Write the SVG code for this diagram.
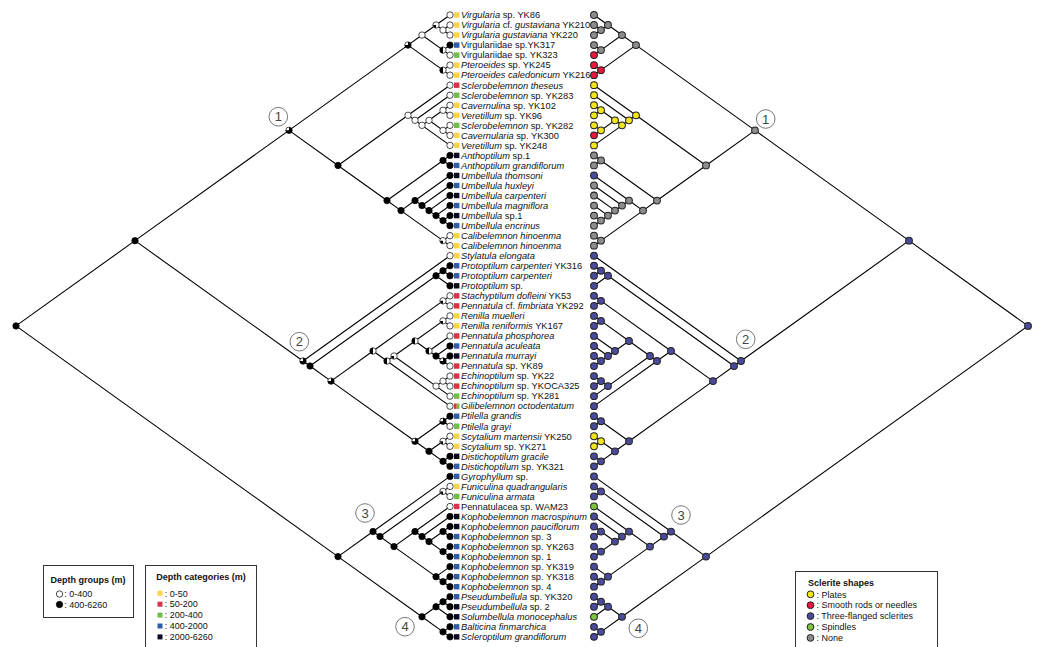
<svg xmlns="http://www.w3.org/2000/svg" xmlns:xlink="http://www.w3.org/1999/xlink" width="1044" height="647" viewBox="0 0 1044 647">
<style>
.e{fill:none;stroke:#000;stroke-width:1.1;stroke-linejoin:round}
text{font-family:"Liberation Sans",Arial,sans-serif;fill:#111}
.lab{font-size:9.3px}
.i{font-style:italic}
.lg{font-size:9px}
.lt{font-size:9px;font-weight:bold}
.box{fill:#fff;stroke:#333;stroke-width:1}
.cn{fill:#fff;stroke:#555;stroke-width:0.8}
.cnt{font-size:13px;fill:#444;text-anchor:middle}
</style>
<defs>
<g id="lw"><circle r="3.2" fill="#fff" stroke="#000" stroke-width="0.7"/></g>
<g id="lb"><circle r="3.2" fill="#000" stroke="#000" stroke-width="0.7"/></g>
<g id="lbw"><circle r="3.2" fill="#000" stroke="#000" stroke-width="0.7"/><path d="M0,0V-2.8A2.8,2.8 0 0 0 -2.8,0Z" fill="#fff"/></g>
<g id="lwb"><circle r="3.2" fill="#fff" stroke="#000" stroke-width="0.7"/><path d="M0,0V2.8A2.8,2.8 0 0 1 -2.8,0Z" fill="#000"/></g>
<g id="lh"><circle r="3.2" fill="#fff" stroke="#000" stroke-width="0.7"/><path d="M0,-3.2A3.2,3.2 0 0 0 0,3.2Z" fill="#000"/></g>
<g id="rg"><circle r="3.4" fill="#8C8C8C" stroke="#222" stroke-width="1"/></g>
<g id="ry"><circle r="3.4" fill="#F2E51E" stroke="#222" stroke-width="1"/></g>
<g id="rr"><circle r="3.4" fill="#E8173E" stroke="#222" stroke-width="1"/></g>
<g id="rp"><circle r="3.4" fill="#4B4A9A" stroke="#222" stroke-width="1"/></g>
<g id="rn"><circle r="3.4" fill="#7DC242" stroke="#222" stroke-width="1"/></g>
<g id="sY"><rect x="0" y="-2.7" width="5.4" height="5.4" fill="#FFD24A"/></g>
<g id="sR"><rect x="0" y="-2.7" width="5.4" height="5.4" fill="#D8334A"/></g>
<g id="sG"><rect x="0" y="-2.7" width="5.4" height="5.4" fill="#6DBE4B"/></g>
<g id="sB"><rect x="0" y="-2.7" width="5.4" height="5.4" fill="#2F5DAA"/></g>
<g id="sK"><rect x="0" y="-2.7" width="5.4" height="5.4" fill="#0B0B24"/></g>
<g id="sRG"><rect x="0" y="-2.7" width="2.7" height="5.4" fill="#D8334A"/><rect x="2.7" y="-2.7" width="2.7" height="5.4" fill="#6DBE4B"/></g>
<path id="tree" class="e" d="M450,25L443,30L450,35 M450,15L436,25L443,30 M450,45L443,50L450,55 M436,25L422,35L443,50 M450,65L443,70L450,75 M422,35L408,45L443,70 M450,105L443,110L450,115 M450,125L443,130L450,135 M443,110L429,120L443,130 M429,120L422,125L450,145 M450,95L415,120L422,125 M450,85L408,115L415,120 M450,155L443,160L450,165 M450,215L443,220L450,225 M450,205L436,215L443,220 M450,195L429,210L436,215 M450,185L422,205L429,210 M450,175L415,200L422,205 M450,235L443,240L450,245 M415,200L401,210L443,240 M443,160L387,200L401,210 M408,115L338,165L387,200 M408,45L289,130L338,165 M450,265L443,270L450,275 M443,270L436,275L450,285 M450,295L443,300L450,305 M450,315L443,320L450,325 M450,355L443,360L450,365 M450,345L436,355L443,360 M450,335L429,350L436,355 M443,320L415,340L429,350 M450,375L443,380L450,385 M443,380L436,385L450,395 M415,340L394,355L436,385 M394,355L387,360L450,405 M443,300L373,350L387,360 M450,415L443,420L450,425 M450,435L443,440L450,445 M450,455L443,460L450,465 M443,440L429,450L443,460 M443,420L415,440L429,450 M373,350L331,380L415,440 M436,275L310,365L331,380 M450,255L303,360L310,365 M289,130L135,240L303,360 M450,485L443,490L450,495 M450,525L443,530L450,535 M450,545L443,550L450,555 M443,530L429,540L443,550 M450,515L422,535L429,540 M450,505L415,530L422,535 M450,575L443,580L450,585 M450,565L436,575L443,580 M415,530L394,545L436,575 M443,490L380,535L394,545 M450,475L373,530L380,535 M450,595L443,600L450,605 M443,600L436,605L450,615 M450,625L443,630L450,635 M436,605L422,615L443,630 M373,530L338,555L422,615 M135,240L16,325L338,555"/>
</defs>
<rect width="1044" height="647" fill="#fff"/>
<g transform="matrix(1 0 0 1.003 0 -0.05)">
<g id="connectors">
<use href="#tree"/>
<use href="#tree" transform="matrix(-1 0 0 1 1044 0)"/>
</g>
<g id="internal-left">
<use href="#lw" x="443" y="30"/><use href="#lwb" x="436" y="25"/><use href="#lh" x="443" y="50"/><use href="#lw" x="422" y="35"/><use href="#lh" x="443" y="70"/><use href="#lbw" x="408" y="45"/>
<use href="#lw" x="443" y="110"/><use href="#lw" x="443" y="130"/><use href="#lw" x="429" y="120"/><use href="#lw" x="422" y="125"/><use href="#lw" x="415" y="120"/><use href="#lw" x="408" y="115"/>
<use href="#lb" x="443" y="160"/><use href="#lb" x="443" y="220"/><use href="#lb" x="436" y="215"/><use href="#lb" x="429" y="210"/><use href="#lb" x="422" y="205"/><use href="#lb" x="415" y="200"/><use href="#lwb" x="443" y="240"/><use href="#lb" x="401" y="210"/><use href="#lb" x="387" y="200"/><use href="#lb" x="338" y="165"/><use href="#lbw" x="289" y="130"/>
<use href="#lb" x="443" y="270"/><use href="#lb" x="436" y="275"/><use href="#lwb" x="443" y="300"/><use href="#lwb" x="443" y="320"/><use href="#lbw" x="443" y="360"/><use href="#lb" x="436" y="355"/><use href="#lh" x="429" y="350"/><use href="#lh" x="415" y="340"/><use href="#lw" x="443" y="380"/><use href="#lw" x="436" y="385"/><use href="#lwb" x="394" y="355"/><use href="#lh" x="387" y="360"/><use href="#lh" x="373" y="350"/>
<use href="#lbw" x="443" y="420"/><use href="#lwb" x="443" y="440"/><use href="#lb" x="443" y="460"/><use href="#lb" x="429" y="450"/><use href="#lbw" x="415" y="440"/><use href="#lbw" x="331" y="380"/><use href="#lb" x="310" y="365"/><use href="#lbw" x="303" y="360"/><use href="#lb" x="135" y="240"/>
<use href="#lwb" x="443" y="490"/><use href="#lb" x="443" y="530"/><use href="#lb" x="443" y="550"/><use href="#lb" x="429" y="540"/><use href="#lb" x="422" y="535"/><use href="#lb" x="415" y="530"/><use href="#lb" x="443" y="580"/><use href="#lb" x="436" y="575"/><use href="#lb" x="394" y="545"/><use href="#lb" x="380" y="535"/><use href="#lb" x="373" y="530"/>
<use href="#lb" x="443" y="600"/><use href="#lb" x="436" y="605"/><use href="#lb" x="443" y="630"/><use href="#lb" x="422" y="615"/><use href="#lb" x="338" y="555"/><use href="#lb" x="16" y="325"/>
</g>
<g id="internal-right" transform="matrix(-1 0 0 1 1044 0)">
<use href="#rg" x="443" y="30"/><use href="#rg" x="436" y="25"/><use href="#rg" x="443" y="50"/><use href="#rg" x="422" y="35"/><use href="#rr" x="443" y="70"/><use href="#rg" x="408" y="45"/>
<use href="#ry" x="443" y="110"/><use href="#ry" x="443" y="130"/><use href="#ry" x="429" y="120"/><use href="#ry" x="422" y="125"/><use href="#ry" x="415" y="120"/><use href="#ry" x="408" y="115"/>
<use href="#rg" x="443" y="160"/><use href="#rg" x="443" y="220"/><use href="#rg" x="436" y="215"/><use href="#rg" x="429" y="210"/><use href="#rg" x="422" y="205"/><use href="#rg" x="415" y="200"/><use href="#rg" x="443" y="240"/><use href="#rg" x="401" y="210"/><use href="#rg" x="387" y="200"/><use href="#rg" x="338" y="165"/><use href="#rg" x="289" y="130"/>
<use href="#rp" x="443" y="270"/><use href="#rp" x="436" y="275"/><use href="#rp" x="443" y="300"/><use href="#rp" x="443" y="320"/><use href="#rp" x="443" y="360"/><use href="#rp" x="436" y="355"/><use href="#rp" x="429" y="350"/><use href="#rp" x="415" y="340"/><use href="#rp" x="443" y="380"/><use href="#rp" x="436" y="385"/><use href="#rp" x="394" y="355"/><use href="#rp" x="387" y="360"/><use href="#rp" x="373" y="350"/>
<use href="#rp" x="443" y="420"/><use href="#ry" x="443" y="440"/><use href="#rp" x="443" y="460"/><use href="#rp" x="429" y="450"/><use href="#rp" x="415" y="440"/><use href="#rp" x="331" y="380"/><use href="#rp" x="310" y="365"/><use href="#rp" x="303" y="360"/><use href="#rp" x="135" y="240"/>
<use href="#rp" x="443" y="490"/><use href="#rp" x="443" y="530"/><use href="#rp" x="443" y="550"/><use href="#rp" x="429" y="540"/><use href="#rp" x="422" y="535"/><use href="#rp" x="415" y="530"/><use href="#rp" x="443" y="580"/><use href="#rp" x="436" y="575"/><use href="#rp" x="394" y="545"/><use href="#rp" x="380" y="535"/><use href="#rp" x="373" y="530"/>
<use href="#rp" x="443" y="600"/><use href="#rp" x="436" y="605"/><use href="#rp" x="443" y="630"/><use href="#rp" x="422" y="615"/><use href="#rp" x="338" y="555"/><use href="#rp" x="16" y="325"/>
</g>
<g id="taxa" class="lab">
<g id="t01"><use href="#lw" x="450" y="15"/><use href="#sY" x="454" y="15"/><text x="461" y="18.3"><tspan class="i">Virgularia</tspan> sp. YK86</text><use href="#rg" x="594" y="15"/></g>
<g id="t02"><use href="#lw" x="450" y="25"/><use href="#sY" x="454" y="25"/><text x="461" y="28.3"><tspan class="i">Virgularia</tspan> cf. <tspan class="i">gustaviana</tspan> YK210</text><use href="#rg" x="594" y="25"/></g>
<g id="t03"><use href="#lw" x="450" y="35"/><use href="#sY" x="454" y="35"/><text x="461" y="38.3"><tspan class="i">Virgularia gustaviana</tspan> YK220</text><use href="#rg" x="594" y="35"/></g>
<g id="t04"><use href="#lb" x="450" y="45"/><use href="#sB" x="454" y="45"/><text x="461" y="48.3">Virgulariidae sp.YK317</text><use href="#rg" x="594" y="45"/></g>
<g id="t05"><use href="#lw" x="450" y="55"/><use href="#sG" x="454" y="55"/><text x="461" y="58.3">Virgulariidae sp. YK323</text><use href="#rr" x="594" y="55"/></g>
<g id="t06"><use href="#lw" x="450" y="65"/><use href="#sY" x="454" y="65"/><text x="461" y="68.3"><tspan class="i">Pteroeides</tspan> sp. YK245</text><use href="#rr" x="594" y="65"/></g>
<g id="t07"><use href="#lw" x="450" y="75"/><use href="#sY" x="454" y="75"/><text x="461" y="78.3"><tspan class="i">Pteroeides caledonicum</tspan> YK216</text><use href="#rr" x="594" y="75"/></g>
<g id="t08"><use href="#lw" x="450" y="85"/><use href="#sR" x="454" y="85"/><text x="461" y="88.3"><tspan class="i">Sclerobelemnon theseus</tspan></text><use href="#ry" x="594" y="85"/></g>
<g id="t09"><use href="#lw" x="450" y="95"/><use href="#sG" x="454" y="95"/><text x="461" y="98.3"><tspan class="i">Sclerobelemnon</tspan> sp. YK283</text><use href="#ry" x="594" y="95"/></g>
<g id="t10"><use href="#lw" x="450" y="105"/><use href="#sY" x="454" y="105"/><text x="461" y="108.3"><tspan class="i">Cavernulina</tspan> sp. YK102</text><use href="#ry" x="594" y="105"/></g>
<g id="t11"><use href="#lw" x="450" y="115"/><use href="#sY" x="454" y="115"/><text x="461" y="118.3"><tspan class="i">Veretillum</tspan> sp. YK96</text><use href="#ry" x="594" y="115"/></g>
<g id="t12"><use href="#lw" x="450" y="125"/><use href="#sG" x="454" y="125"/><text x="461" y="128.3"><tspan class="i">Sclerobelemnon</tspan> sp. YK282</text><use href="#ry" x="594" y="125"/></g>
<g id="t13"><use href="#lw" x="450" y="135"/><use href="#sY" x="454" y="135"/><text x="461" y="138.3"><tspan class="i">Cavernularia</tspan> sp. YK300</text><use href="#rr" x="594" y="135"/></g>
<g id="t14"><use href="#lw" x="450" y="145"/><use href="#sY" x="454" y="145"/><text x="461" y="148.3"><tspan class="i">Veretillum</tspan> sp. YK248</text><use href="#ry" x="594" y="145"/></g>
<g id="t15"><use href="#lb" x="450" y="155"/><use href="#sK" x="454" y="155"/><text x="461" y="158.3"><tspan class="i">Anthoptilum</tspan> sp.1</text><use href="#rg" x="594" y="155"/></g>
<g id="t16"><use href="#lb" x="450" y="165"/><use href="#sB" x="454" y="165"/><text x="461" y="168.3"><tspan class="i">Anthoptilum grandiflorum</tspan></text><use href="#rg" x="594" y="165"/></g>
<g id="t17"><use href="#lb" x="450" y="175"/><use href="#sK" x="454" y="175"/><text x="461" y="178.3"><tspan class="i">Umbellula thomsoni</tspan></text><use href="#rp" x="594" y="175"/></g>
<g id="t18"><use href="#lb" x="450" y="185"/><use href="#sB" x="454" y="185"/><text x="461" y="188.3"><tspan class="i">Umbellula huxleyi</tspan></text><use href="#rg" x="594" y="185"/></g>
<g id="t19"><use href="#lb" x="450" y="195"/><use href="#sK" x="454" y="195"/><text x="461" y="198.3"><tspan class="i">Umbellula carpenteri</tspan></text><use href="#rg" x="594" y="195"/></g>
<g id="t20"><use href="#lb" x="450" y="205"/><use href="#sB" x="454" y="205"/><text x="461" y="208.3"><tspan class="i">Umbellula magniflora</tspan></text><use href="#rg" x="594" y="205"/></g>
<g id="t21"><use href="#lb" x="450" y="215"/><use href="#sK" x="454" y="215"/><text x="461" y="218.3"><tspan class="i">Umbellula</tspan> sp.1</text><use href="#rg" x="594" y="215"/></g>
<g id="t22"><use href="#lb" x="450" y="225"/><use href="#sB" x="454" y="225"/><text x="461" y="228.3"><tspan class="i">Umbellula encrinus</tspan></text><use href="#rg" x="594" y="225"/></g>
<g id="t23"><use href="#lw" x="450" y="235"/><use href="#sY" x="454" y="235"/><text x="461" y="238.3"><tspan class="i">Calibelemnon hinoenma</tspan></text><use href="#rg" x="594" y="235"/></g>
<g id="t24"><use href="#lw" x="450" y="245"/><use href="#sY" x="454" y="245"/><text x="461" y="248.3"><tspan class="i">Calibelemnon hinoenma</tspan></text><use href="#rg" x="594" y="245"/></g>
<g id="t25"><use href="#lw" x="450" y="255"/><use href="#sY" x="454" y="255"/><text x="461" y="258.3"><tspan class="i">Stylatula elongata</tspan></text><use href="#rp" x="594" y="255"/></g>
<g id="t26"><use href="#lb" x="450" y="265"/><use href="#sB" x="454" y="265"/><text x="461" y="268.3"><tspan class="i">Protoptilum carpenteri</tspan> YK316</text><use href="#rp" x="594" y="265"/></g>
<g id="t27"><use href="#lb" x="450" y="275"/><use href="#sB" x="454" y="275"/><text x="461" y="278.3"><tspan class="i">Protoptilum carpenteri</tspan></text><use href="#rp" x="594" y="275"/></g>
<g id="t28"><use href="#lb" x="450" y="285"/><use href="#sK" x="454" y="285"/><text x="461" y="288.3"><tspan class="i">Protoptilum</tspan> sp.</text><use href="#rp" x="594" y="285"/></g>
<g id="t29"><use href="#lw" x="450" y="295"/><use href="#sR" x="454" y="295"/><text x="461" y="298.3"><tspan class="i">Stachyptilum dofleini</tspan> YK53</text><use href="#rp" x="594" y="295"/></g>
<g id="t30"><use href="#lw" x="450" y="305"/><use href="#sR" x="454" y="305"/><text x="461" y="308.3"><tspan class="i">Pennatula</tspan> cf. <tspan class="i">fimbriata</tspan> YK292</text><use href="#rp" x="594" y="305"/></g>
<g id="t31"><use href="#lw" x="450" y="315"/><use href="#sY" x="454" y="315"/><text x="461" y="318.3"><tspan class="i">Renilla muelleri</tspan></text><use href="#rp" x="594" y="315"/></g>
<g id="t32"><use href="#lw" x="450" y="325"/><use href="#sY" x="454" y="325"/><text x="461" y="328.3"><tspan class="i">Renilla reniformis</tspan> YK167</text><use href="#rp" x="594" y="325"/></g>
<g id="t33"><use href="#lw" x="450" y="335"/><use href="#sR" x="454" y="335"/><text x="461" y="338.3"><tspan class="i">Pennatula phosphorea</tspan></text><use href="#rp" x="594" y="335"/></g>
<g id="t34"><use href="#lb" x="450" y="345"/><use href="#sB" x="454" y="345"/><text x="461" y="348.3"><tspan class="i">Pennatula aculeata</tspan></text><use href="#rp" x="594" y="345"/></g>
<g id="t35"><use href="#lb" x="450" y="355"/><use href="#sK" x="454" y="355"/><text x="461" y="358.3"><tspan class="i">Pennatula murrayi</tspan></text><use href="#rp" x="594" y="355"/></g>
<g id="t36"><use href="#lw" x="450" y="365"/><use href="#sR" x="454" y="365"/><text x="461" y="368.3"><tspan class="i">Pennatula</tspan> sp. YK89</text><use href="#rp" x="594" y="365"/></g>
<g id="t37"><use href="#lw" x="450" y="375"/><use href="#sR" x="454" y="375"/><text x="461" y="378.3"><tspan class="i">Echinoptilum</tspan> sp. YK22</text><use href="#rp" x="594" y="375"/></g>
<g id="t38"><use href="#lw" x="450" y="385"/><use href="#sR" x="454" y="385"/><text x="461" y="388.3"><tspan class="i">Echinoptilum</tspan> sp. YKOCA325</text><use href="#rp" x="594" y="385"/></g>
<g id="t39"><use href="#lw" x="450" y="395"/><use href="#sG" x="454" y="395"/><text x="461" y="398.3"><tspan class="i">Echinoptilum</tspan> sp. YK281</text><use href="#rp" x="594" y="395"/></g>
<g id="t40"><use href="#lw" x="450" y="405"/><use href="#sRG" x="454" y="405"/><text x="461" y="408.3"><tspan class="i">Gilibelemnon octodentatum</tspan></text><use href="#rp" x="594" y="405"/></g>
<g id="t41"><use href="#lb" x="450" y="415"/><use href="#sB" x="454" y="415"/><text x="461" y="418.3"><tspan class="i">Ptilella grandis</tspan></text><use href="#rp" x="594" y="415"/></g>
<g id="t42"><use href="#lw" x="450" y="425"/><use href="#sG" x="454" y="425"/><text x="461" y="428.3"><tspan class="i">Ptilella grayi</tspan></text><use href="#rp" x="594" y="425"/></g>
<g id="t43"><use href="#lw" x="450" y="435"/><use href="#sY" x="454" y="435"/><text x="461" y="438.3"><tspan class="i">Scytalium martensii</tspan> YK250</text><use href="#ry" x="594" y="435"/></g>
<g id="t44"><use href="#lw" x="450" y="445"/><use href="#sY" x="454" y="445"/><text x="461" y="448.3"><tspan class="i">Scytalium</tspan> sp. YK271</text><use href="#ry" x="594" y="445"/></g>
<g id="t45"><use href="#lb" x="450" y="455"/><use href="#sK" x="454" y="455"/><text x="461" y="458.3"><tspan class="i">Distichoptilum gracile</tspan></text><use href="#rp" x="594" y="455"/></g>
<g id="t46"><use href="#lb" x="450" y="465"/><use href="#sB" x="454" y="465"/><text x="461" y="468.3"><tspan class="i">Distichoptilum</tspan> sp. YK321</text><use href="#rp" x="594" y="465"/></g>
<g id="t47"><use href="#lb" x="450" y="475"/><use href="#sB" x="454" y="475"/><text x="461" y="478.3"><tspan class="i">Gyrophyllum</tspan> sp.</text><use href="#rp" x="594" y="475"/></g>
<g id="t48"><use href="#lw" x="450" y="485"/><use href="#sY" x="454" y="485"/><text x="461" y="488.3"><tspan class="i">Funiculina quadrangularis</tspan></text><use href="#rp" x="594" y="485"/></g>
<g id="t49"><use href="#lw" x="450" y="495"/><use href="#sG" x="454" y="495"/><text x="461" y="498.3"><tspan class="i">Funiculina armata</tspan></text><use href="#rp" x="594" y="495"/></g>
<g id="t50"><use href="#lw" x="450" y="505"/><use href="#sR" x="454" y="505"/><text x="461" y="508.3">Pennatulacea sp. WAM23</text><use href="#rn" x="594" y="505"/></g>
<g id="t51"><use href="#lb" x="450" y="515"/><use href="#sK" x="454" y="515"/><text x="461" y="518.3"><tspan class="i">Kophobelemnon macrospinum</tspan></text><use href="#rp" x="594" y="515"/></g>
<g id="t52"><use href="#lb" x="450" y="525"/><use href="#sK" x="454" y="525"/><text x="461" y="528.3"><tspan class="i">Kophobelemnon pauciflorum</tspan></text><use href="#rp" x="594" y="525"/></g>
<g id="t53"><use href="#lb" x="450" y="535"/><use href="#sB" x="454" y="535"/><text x="461" y="538.3"><tspan class="i">Kophobelemnon</tspan> sp. 3</text><use href="#rp" x="594" y="535"/></g>
<g id="t54"><use href="#lb" x="450" y="545"/><use href="#sB" x="454" y="545"/><text x="461" y="548.3"><tspan class="i">Kophobelemnon</tspan> sp. YK263</text><use href="#rp" x="594" y="545"/></g>
<g id="t55"><use href="#lb" x="450" y="555"/><use href="#sB" x="454" y="555"/><text x="461" y="558.3"><tspan class="i">Kophobelemnon</tspan> sp. 1</text><use href="#rp" x="594" y="555"/></g>
<g id="t56"><use href="#lb" x="450" y="565"/><use href="#sB" x="454" y="565"/><text x="461" y="568.3"><tspan class="i">Kophobelemnon</tspan> sp. YK319</text><use href="#rp" x="594" y="565"/></g>
<g id="t57"><use href="#lb" x="450" y="575"/><use href="#sB" x="454" y="575"/><text x="461" y="578.3"><tspan class="i">Kophobelemnon</tspan> sp. YK318</text><use href="#rp" x="594" y="575"/></g>
<g id="t58"><use href="#lb" x="450" y="585"/><use href="#sB" x="454" y="585"/><text x="461" y="588.3"><tspan class="i">Kophobelemnon</tspan> sp. 4</text><use href="#rp" x="594" y="585"/></g>
<g id="t59"><use href="#lb" x="450" y="595"/><use href="#sB" x="454" y="595"/><text x="461" y="598.3"><tspan class="i">Pseudumbellula</tspan> sp. YK320</text><use href="#rp" x="594" y="595"/></g>
<g id="t60"><use href="#lb" x="450" y="605"/><use href="#sK" x="454" y="605"/><text x="461" y="608.3"><tspan class="i">Pseudumbellula</tspan> sp. 2</text><use href="#rp" x="594" y="605"/></g>
<g id="t61"><use href="#lb" x="450" y="615"/><use href="#sK" x="454" y="615"/><text x="461" y="618.3"><tspan class="i">Solumbellula monocephalus</tspan></text><use href="#rn" x="594" y="615"/></g>
<g id="t62"><use href="#lb" x="450" y="625"/><use href="#sB" x="454" y="625"/><text x="461" y="628.3"><tspan class="i">Balticina finmarchica</tspan></text><use href="#rp" x="594" y="625"/></g>
<g id="t63"><use href="#lb" x="450" y="635"/><use href="#sK" x="454" y="635"/><text x="461" y="638.3"><tspan class="i">Scleroptilum grandiflorum</tspan></text><use href="#rp" x="594" y="635"/></g>
</g>
</g>
<g id="clade-labels">
<g id="c1L"><circle class="cn" cx="278.3" cy="116.7" r="9.3"/><text class="cnt" x="278.3" y="121.4">1</text></g>
<g id="c1R"><circle class="cn" cx="765.7" cy="119" r="9.3"/><text class="cnt" x="765.7" y="123.7">1</text></g>
<g id="c2L"><circle class="cn" cx="299.3" cy="341.7" r="9.3"/><text class="cnt" x="299.3" y="346.4">2</text></g>
<g id="c2R"><circle class="cn" cx="745.7" cy="339.3" r="9.3"/><text class="cnt" x="745.7" y="344">2</text></g>
<g id="c3L"><circle class="cn" cx="365" cy="513" r="9.3"/><text class="cnt" x="365" y="517.7">3</text></g>
<g id="c3R"><circle class="cn" cx="681" cy="515" r="9.3"/><text class="cnt" x="681" y="519.7">3</text></g>
<g id="c4L"><circle class="cn" cx="405" cy="626.7" r="9.3"/><text class="cnt" x="405" y="631.4">4</text></g>
<g id="c4R"><circle class="cn" cx="638.3" cy="628.3" r="9.3"/><text class="cnt" x="638.3" y="633">4</text></g>
</g>
<g id="legend-depth-groups">
<rect class="box" x="43.5" y="565.5" width="90" height="52"/>
<text class="lt" x="50.5" y="583">Depth groups (m)</text>
<use href="#lw" x="59.5" y="594"/><text class="lg" x="64.3" y="597.2">: 0-400</text>
<use href="#lb" x="59.5" y="604.5"/><text class="lg" x="64.3" y="607.7">: 400-6260</text>
</g>
<g id="legend-depth-categories">
<rect class="box" x="145.5" y="565.5" width="111" height="95"/>
<text class="lt" x="201" y="580" text-anchor="middle">Depth categories (m)</text>
<rect x="157.5" y="590.8" width="5" height="5" fill="#FFD24A"/><text class="lg" x="164.8" y="596.5">: 0-50</text>
<rect x="157.5" y="601.7" width="5" height="5" fill="#D8334A"/><text class="lg" x="164.8" y="607.4">: 50-200</text>
<rect x="157.5" y="612.6" width="5" height="5" fill="#6DBE4B"/><text class="lg" x="164.8" y="618.3">: 200-400</text>
<rect x="157.5" y="623.5" width="5" height="5" fill="#2F5DAA"/><text class="lg" x="164.8" y="629.2">: 400-2000</text>
<rect x="157.5" y="634.4" width="5" height="5" fill="#0B0B24"/><text class="lg" x="164.8" y="640.1">: 2000-6260</text>
</g>
<g id="legend-sclerite">
<rect class="box" x="795.5" y="571.5" width="142" height="85"/>
<text class="lt" x="808" y="586">Sclerite shapes</text>
<use href="#ry" x="810.5" y="594.3"/><text class="lg" x="816.5" y="597.5">: Plates</text>
<use href="#rr" x="810.5" y="605.2"/><text class="lg" x="816.5" y="608.4">: Smooth rods or needles</text>
<use href="#rp" x="810.5" y="616.1"/><text class="lg" x="816.5" y="619.3">: Three-flanged sclerites</text>
<use href="#rn" x="810.5" y="627"/><text class="lg" x="816.5" y="630.2">: Spindles</text>
<use href="#rg" x="810.5" y="637.9"/><text class="lg" x="816.5" y="641.1">: None</text>
</g>
</svg>
